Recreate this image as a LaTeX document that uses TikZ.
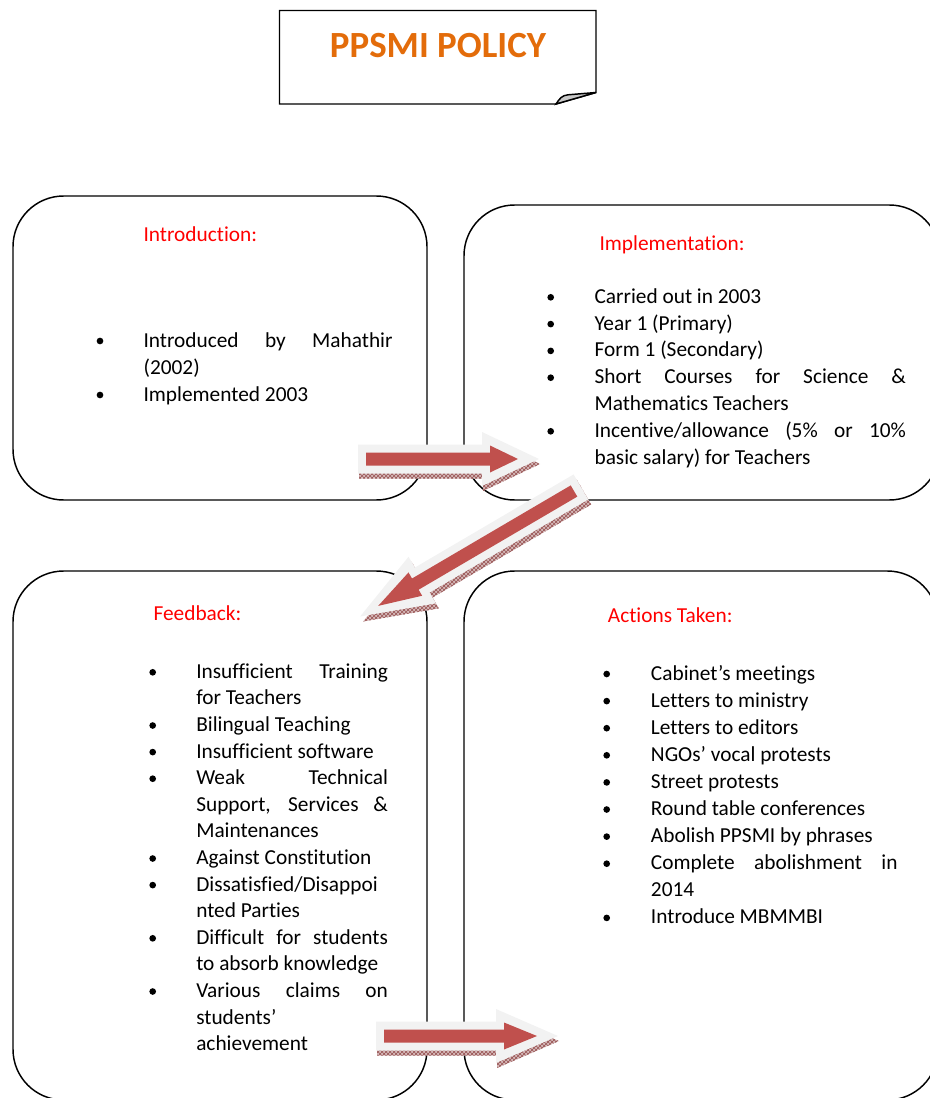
\documentclass[tikz,border=0pt]{standalone}
\usepackage{fontspec}
\setmainfont{Carlito}[Ligatures=NoCommon]
\usetikzlibrary{patterns}
\definecolor{ttlorange}{RGB}{227,108,10}
\definecolor{hdred}{RGB}{255,0,0}
\definecolor{arrred}{RGB}{192,80,77}
\definecolor{arrglow}{RGB}{242,242,242}
\definecolor{shadefill}{RGB}{214,186,186}
\definecolor{shadeline}{RGB}{150,80,80}
\definecolor{flapgray}{RGB}{200,200,200}
\newcommand\tline[4]{\node[txt] (#1) at (#2,#3) {#4};}
\newcommand\tbul[3]{\node[bul] (#1) at (#2,{#3-6}) {};}
% #1 x, #2 y, #3 angle, #4 shaft length, #5 head length, #6/#7 shadow offset
\newcommand\blockarrow[7]{%
  \begin{scope}[shift={({#1+#6},{#2+#7})},rotate=#3]
    \fill[shadefill] (-8,-14.5) -- ({#4-8},-14.5) -- ({#4-8},-27) -- ({#4+#5+21},0) -- ({#4-8},27) -- ({#4-8},14.5) -- (-8,14.5) -- cycle;
    \fill[pattern=crosshatch, pattern color=shadeline] (-8,-14.5) -- ({#4-8},-14.5) -- ({#4-8},-27) -- ({#4+#5+21},0) -- ({#4-8},27) -- ({#4-8},14.5) -- (-8,14.5) -- cycle;
  \end{scope}
  \begin{scope}[shift={(#1,#2)},rotate=#3]
    \fill[arrglow] (-8,-14.5) -- ({#4-8},-14.5) -- ({#4-8},-27) -- ({#4+#5+21},0) -- ({#4-8},27) -- ({#4-8},14.5) -- (-8,14.5) -- cycle;
    \fill[arrred] (0,-6.5) -- (#4,-6.5) -- (#4,-13.5) -- ({#4+#5},0) -- (#4,13.5) -- (#4,6.5) -- (0,6.5) -- cycle;
  \end{scope}}
\begin{document}
\begin{tikzpicture}[x=0.75pt,y=-0.75pt,
  frame/.style={draw=black, line width=1.1pt},
  bigbox/.style={draw=black, line width=1.1pt, rounded corners=38pt, rectangle, inner sep=0pt},
  txt/.style={anchor=base west, inner sep=0pt, font=\fontsize{16}{20}\selectfont},
  hd/.style={txt, text=hdred},
  bul/.style={circle, fill=black, inner sep=0pt, minimum size=5pt}]
\useasboundingbox (0,0) rectangle (930,1098);
\clip (0,0) rectangle (930,1098);

% title
\draw[frame] (279.5,10.5) -- (596,10.5) -- (596,92.5) -- (556,104) -- (279.5,104) -- cycle;
\filldraw[frame, fill=flapgray] (556,104) .. controls (560,98) and (562,95.5) .. (568,94.8) -- (596,92.5) -- cycle;
\node[font=\bfseries\fontsize{27.7}{30}\selectfont, text=ttlorange, inner sep=0pt] (title) at (438,46) {PPSMI POLICY};

% boxes
\node[bigbox, minimum width=310.5pt, minimum height=228pt] (intro) at (220,348) {};
\node[bigbox, minimum width=357pt, minimum height=221.25pt] (impl) at (702,352.5) {};
\node[bigbox, minimum width=310.5pt, minimum height=396.75pt] (feed) at (220,835.5) {};
\node[bigbox, minimum width=355.5pt, minimum height=396.75pt] (act) at (701,835.5) {};

% Introduction
\node[hd] (h1) at (143.3,242) {Introduction:};
\tbul{b11}{100}{347}
\tline{t11}{143.3}{347}{\makebox[186.75pt][s]{Introduced by Mahathir}}
\tline{t12}{143.3}{374}{(2002)}
\tbul{b12}{100}{401}
\tline{t13}{143.3}{401}{Implemented 2003}

% Implementation
\node[hd] (h2) at (599.3,250) {Implementation:};
\tbul{b21}{550.7}{303.3}
\tline{t21}{594.3}{303.3}{Carried out in 2003}
\tbul{b22}{550.7}{330.1}
\tline{t22}{594.3}{330.1}{Year 1 (Primary)}
\tbul{b23}{550.7}{356.9}
\tline{t23}{594.3}{356.9}{Form 1 (Secondary)}
\tbul{b24}{550.7}{383.7}
\tline{t24}{594.3}{383.7}{\makebox[233.55pt][s]{Short Courses for Science \&}}
\tline{t25}{594.3}{410.5}{Mathematics Teachers}
\tbul{b26}{550.7}{437.3}
\tline{t26}{594.3}{437.3}{\makebox[233.55pt][s]{Incentive/allowance (5\% or 10\%}}
\tline{t27}{594.3}{464.1}{basic salary) for Teachers}

% Feedback
\node[hd] (h3) at (153.3,620) {Feedback:};
\tbul{b31}{152.7}{678.3}
\tline{t31}{196}{678.3}{\makebox[143.8pt][s]{Insufficient Training}}
\tline{t32}{196}{704.9}{for Teachers}
\tbul{b33}{152.7}{731.5}
\tline{t33}{196}{731.5}{Bilingual Teaching}
\tbul{b34}{152.7}{758.1}
\tline{t34}{196}{758.1}{Insufficient software}
\tbul{b35}{152.7}{784.7}
\tline{t35}{196}{784.7}{\makebox[143.8pt][s]{Weak Technical}}
\tline{t36}{196}{811.3}{\makebox[143.8pt][s]{Support, Services \&}}
\tline{t37}{196}{837.9}{Maintenances}
\tbul{b38}{152.7}{864.5}
\tline{t38}{196}{864.5}{Against Constitution}
\tbul{b39}{152.7}{891.1}
\tline{t39}{196}{891.1}{Dissatisfied/Disappoi}
\tline{t310}{196}{917.7}{nted Parties}
\tbul{b311}{152.7}{944.3}
\tline{t311}{196}{944.3}{\makebox[143.8pt][s]{Difficult for students}}
\tline{t312}{196}{970.9}{to absorb knowledge}
\tbul{b313}{152.7}{997.5}
\tline{t313}{196}{997.5}{\makebox[143.8pt][s]{Various claims on}}
\tline{t314}{196}{1024.1}{students’}
\tline{t315}{196}{1050.7}{achievement}

% Actions Taken
\node[hd] (h4) at (607.7,622.7) {Actions Taken:};
\tbul{b41}{606.7}{680}
\tline{t41}{650.7}{680}{Cabinet’s meetings}
\tbul{b42}{606.7}{707.1}
\tline{t42}{650.7}{707.1}{Letters to ministry}
\tbul{b43}{606.7}{734.2}
\tline{t43}{650.7}{734.2}{Letters to editors}
\tbul{b44}{606.7}{761.3}
\tline{t44}{650.7}{761.3}{NGOs’ vocal protests}
\tbul{b45}{606.7}{788.4}
\tline{t45}{650.7}{788.4}{Street protests}
\tbul{b46}{606.7}{815.5}
\tline{t46}{650.7}{815.5}{Round table conferences}
\tbul{b47}{606.7}{842.6}
\tline{t47}{650.7}{842.6}{Abolish PPSMI by phrases}
\tbul{b48}{606.7}{869.7}
\tline{t48}{650.7}{869.7}{\makebox[184.95pt][s]{Complete abolishment in}}
\tline{t49}{650.7}{896.8}{2014}
\tbul{b410}{606.7}{923.9}
\tline{t410}{650.7}{923.9}{Introduce MBMMBI}

% arrows
\blockarrow{366}{459}{0}{124}{28}{1}{5}
\blockarrow{574}{491}{210.4}{184}{43}{3}{5}
\blockarrow{384}{1036}{0}{120}{33}{1}{5}
\end{tikzpicture}
\end{document}
